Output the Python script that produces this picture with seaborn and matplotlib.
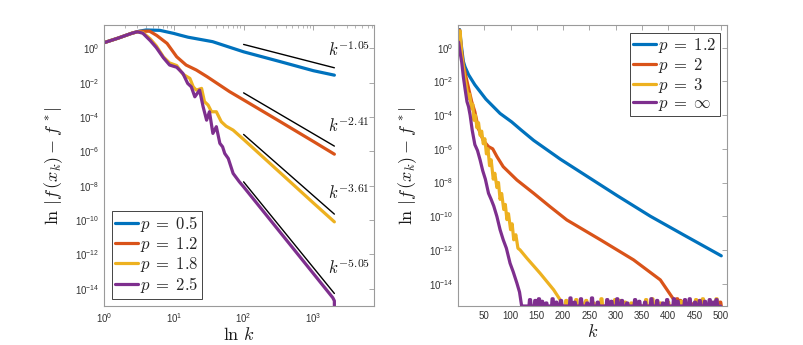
import numpy as np
import pandas as pd
import matplotlib
matplotlib.use("Agg")
import matplotlib.pyplot as plt
import seaborn as sns
from matplotlib.ticker import FixedLocator, NullLocator, LogLocator, NullFormatter, LogFormatterSciNotation

# ---------------- data (y values are log10 of the error) ----------------
colors = ["#0072BD", "#D95319", "#EDB120", "#7E2F8E"]

left_labels = ["$p\\;=\\;0.5$", "$p\\;=\\;1.2$", "$p\\;=\\;1.8$", "$p\\;=\\;2.5$"]
L_blue_k = [1, 1.6, 2.5, 3.2, 4, 6.3, 10, 12.3, 16, 36, 100, 320, 1000, 2000]
L_blue_log = [0.33, 0.6, 0.88, 1.0, 1.07, 1.05, 0.87, 0.77, 0.65, 0.39, -0.2, -0.75, -1.3, -1.56]
L_orange_k = [1, 1.6, 2.5, 3.2, 4.5, 5.7, 8, 11, 15, 21, 30, 63, 100, 300, 1000, 2000]
L_orange_log = [0.33, 0.6, 0.88, 0.99, 1.0, 0.75, 0.29, -0.49, -0.97, -1.26, -1.65, -2.52, -3.0, -4.15, -5.42, -6.16]
L_yellow_k = [1, 1.6, 2.5, 3.0, 3.6, 4.6, 5.6, 7.1, 8.7, 11, 13.5, 17, 19, 21, 25, 27.5, 31, 34.7,
              40.7, 47.9, 56.2, 70.8, 100, 1000, 2000]
L_yellow_log = [0.33, 0.6, 0.88, 0.97, 0.92, 0.55, 0.15, -0.5, -0.85, -1.0, -1.5, -1.75, -2.24, -2.43,
                -2.33, -3.1, -3.3, -3.69, -3.69, -4.27, -4.53, -4.76, -5.3, -9.0, -10.1]
L_purple_k = [1, 1.6, 2.5, 3.0, 3.6, 4.6, 5.6, 7.1, 8.7, 11, 13.5, 15.8, 17.8, 20, 23.4, 26.3, 29.5,
              32.4, 36.3, 40.7, 45.7, 50, 53.7, 60.3, 70.8, 87, 100, 1000, 1900, 2000, 2000]
L_purple_log = [0.33, 0.6, 0.88, 0.97, 0.88, 0.45, 0.05, -0.55, -0.97, -1.1, -1.46, -2.04, -2.24, -2.82,
                -2.43, -3.4, -4.18, -3.69, -4.95, -4.56, -5.53, -5.73, -6.12, -6.41, -7.28, -7.77, -8.06,
                -13.11, -14.52, -14.7, -16]

ref_k = [100, 2000]
ref_start_log = [0.23, -2.59, -5.01, -7.77]
ref_end_log = [-1.13, -5.69, -9.65, -14.27]
ref_labels = ["$k^{-1.05}$", "$k^{-2.41}$", "$k^{-3.61}$", "$k^{-5.05}$"]
ref_label_log = [-0.04, -4.5, -8.39, -12.75]

right_labels = ["$p\\;=\\;1.2$", "$p\\;=\\;2$", "$p\\;=\\;3$", "$p\\;=\\;\\infty$"]
R_blue_k = [1, 3, 6, 10, 13.3, 20, 32, 53, 80, 102, 120, 144, 195, 239, 303, 366, 430, 501]
R_blue_log = [1.0, 1.08, 0.2, -0.8, -1.13, -1.6, -2.2, -3.05, -3.9, -4.4, -4.88, -5.5, -6.62, -7.5,
              -8.78, -10.0, -11.12, -12.35]
R_orange_k = [1, 3, 6, 10, 16.5, 26, 32, 38.8, 48, 58, 66, 74, 86, 112, 144, 175, 207, 271, 334, 385, 411]
R_orange_log = [1.0, 1.05, 0.0, -1.0, -1.92, -3.2, -3.8, -4.8, -5.5, -5.87, -6.0, -6.46, -7.06, -7.85,
                -8.64, -9.43, -10.22, -11.4, -12.59, -13.78, -14.97]
R_yellow_k = [1, 3, 4, 7, 13.3, 19.7, 22, 26, 28, 30, 33, 36, 39, 42, 45, 48, 51, 54, 57, 60, 63, 67,
              70, 74, 77, 80, 83, 87, 90, 93, 96, 100, 103, 106, 110, 114, 118, 131, 156, 182, 194.5]
R_yellow_log = [0.5, 0.95, 1.0, -0.45, -1.84, -3.02, -2.75, -3.62, -3.35, -4.3, -4.0, -4.75, -4.45,
                -5.2, -4.95, -5.7, -5.4, -6.3, -6.0, -7.0, -6.65, -7.8, -7.45, -8.3, -8.0, -9.0, -8.65,
                -9.6, -9.3, -10.2, -9.85, -10.8, -10.45, -11.4, -11.1, -11.9, -12.0, -12.49, -13.38,
                -14.37, -14.97]
R_purple_k = [1, 4, 7, 10, 13.3, 17, 20, 23, 27, 32, 37, 42, 47, 52, 58, 63, 68, 74, 80, 86, 92, 99,
              105, 112, 117, 121.4]
R_purple_log = [0.34, -0.3, -0.85, -1.7, -2.43, -3.2, -3.5, -4.0, -4.9, -5.75, -6.1, -6.66, -7.3, -7.8,
                -8.64, -9.0, -9.4, -10.02, -10.8, -11.4, -11.9, -12.79, -13.3, -13.97, -14.5, -15.4]

# machine-precision floor with spikes
floor_log = -15.33
orange_spike_k = [417, 423, 448, 470, 499]
orange_spike_log = [-14.9, -15.0, -15.2, -15.2, -15.1]
yellow_spike_k = [206, 216, 225, 235, 244, 258, 273, 287, 299, 308, 318, 330, 358, 370, 385, 400, 425,
                  453, 466, 482, 492]
yellow_spike_log = [-15.0, -15.15, -14.95, -15.1, -15.0, -15.15, -14.9, -15.1, -14.95, -15.0, -15.1,
                    -15.15, -14.95, -14.9, -15.15, -15.1, -15.05, -14.95, -14.9, -15.1, -14.9]
purple_spike_k = [137, 147, 154, 160, 168, 180, 187, 196, 214, 222, 234, 246, 255, 266, 284, 292, 303,
                  312, 322, 337, 345, 356, 368, 379, 390, 398, 411, 418, 432, 441, 451, 460, 470, 479,
                  486, 492]
purple_spike_log = [-14.95, -15.0, -14.9, -15.05, -15.15, -14.9, -15.1, -15.0, -14.85, -15.1, -14.9,
                    -15.15, -14.85, -15.1, -14.95, -15.05, -14.9, -15.0, -15.15, -14.95, -15.05, -15.1,
                    -14.9, -15.0, -15.15, -14.95, -14.9, -15.05, -14.95, -14.9, -15.1, -15.0, -15.05,
                    -14.95, -15.1, -14.95]
k_end = 500


def with_floor(ks, logs, spike_k, spike_log):
    ks, logs = list(ks), list(logs)
    ks.append(ks[-1] + 2); logs.append(floor_log)
    for c, h in zip(spike_k, spike_log):
        ks += [c - 2, c - 1, c + 1, c + 2]
        logs += [floor_log, h, h, floor_log]
    ks.append(k_end); logs.append(floor_log)
    return ks, logs


def frame(series, labels):
    parts = []
    for (ks, logs), lab in zip(series, labels):
        parts.append(pd.DataFrame({"k": ks, "err": np.power(10.0, logs), "p": lab}))
    return pd.concat(parts, ignore_index=True)


left_df = frame([(L_blue_k, L_blue_log), (L_orange_k, L_orange_log),
                 (L_yellow_k, L_yellow_log), (L_purple_k, L_purple_log)], left_labels)
right_df = frame([(R_blue_k, R_blue_log),
                  with_floor(R_orange_k, R_orange_log, orange_spike_k, orange_spike_log),
                  with_floor(R_yellow_k, R_yellow_log, yellow_spike_k, yellow_spike_log),
                  with_floor(R_purple_k, R_purple_log, purple_spike_k, purple_spike_log)], right_labels)

# ---------------- styling ----------------
sns.set_theme(style="white")
plt.rcParams["font.family"] = ["Liberation Sans", "DejaVu Sans"]
plt.rcParams["mathtext.fontset"] = "cm"
plt.rcParams["axes.edgecolor"] = "#9a9a9a"
plt.rcParams["axes.linewidth"] = 0.8

fig = plt.figure(figsize=(8.04, 3.45), dpi=100)
axL = fig.add_axes([0.1294, 0.113, 0.3358, 0.8145])
axR = fig.add_axes([0.5697, 0.113, 0.3346, 0.8145])

LW = 2.3
for ax, df, labels in [(axL, left_df, left_labels), (axR, right_df, right_labels)]:
    sns.lineplot(data=df, x="k", y="err", hue="p", hue_order=labels, palette=colors,
                 sort=False, estimator=None, units="p", linewidth=LW, legend=False, ax=ax)

for s, e, lab, ly in zip(ref_start_log, ref_end_log, ref_labels, ref_label_log):
    axL.plot(ref_k, [10 ** s, 10 ** e], color="black", lw=1.0)
    axL.text(1600, 10 ** ly, lab, fontsize=12, ha="left", va="center", color="#1a1a1a")

yticks = [1e-14, 1e-12, 1e-10, 1e-8, 1e-6, 1e-4, 1e-2, 1e0]
for ax in (axL, axR):
    ax.set_yscale("log")
    ax.yaxis.set_major_locator(FixedLocator(yticks))
    ax.yaxis.set_minor_locator(NullLocator())
    ax.yaxis.set_major_formatter(LogFormatterSciNotation())
    ax.tick_params(which="both", direction="in", top=True, right=True, colors="#9a9a9a",
                   labelcolor="#333333", labelsize=7)
    ax.tick_params(which="major", length=3.5, width=0.6)
    ax.tick_params(which="minor", length=2, width=0.5)
    ax.set_ylabel("$\\ln\\,|f\\,(x_k)-f^{\\,*}|$", fontsize=13, color="#1a1a1a", labelpad=7)
    for sp in ax.spines.values():
        sp.set_visible(True)
        sp.set_color("#9a9a9a")

axL.set_xscale("log")
axL.set_xlim(1, 7400)
axL.set_ylim(1e-15, 10 ** 1.36)
axL.xaxis.set_major_locator(FixedLocator([1, 10, 100, 1000]))
axL.xaxis.set_minor_locator(LogLocator(base=10, subs=np.arange(2, 10)))
axL.xaxis.set_minor_formatter(NullFormatter())
axL.set_xlabel("$\\ln\\, k$", fontsize=13, color="#1a1a1a", labelpad=2)

axR.set_xlim(0, 512)
axR.set_ylim(10 ** -15.33, 10 ** 1.35)
axR.set_xticks([50, 100, 150, 200, 250, 300, 350, 400, 450, 500])
axR.set_xlabel("$k$", fontsize=13, color="#1a1a1a", labelpad=2)

leg_kw = dict(fontsize=12, frameon=True, fancybox=False, framealpha=1, edgecolor="#262626",
              handlelength=1.4, handletextpad=0.1, labelspacing=0.06, borderpad=0.2,
              borderaxespad=0.45)
legL = axL.legend(handles=axL.get_lines()[:4], labels=left_labels, loc="lower left", **leg_kw)
legR = axR.legend(handles=axR.get_lines()[:4], labels=right_labels, loc="upper right", **leg_kw)
for leg in (legL, legR):
    leg.get_frame().set_linewidth(0.6)
    for h in leg.legend_handles:
        h.set_linewidth(LW)

fig.savefig("out.png", dpi=100)
